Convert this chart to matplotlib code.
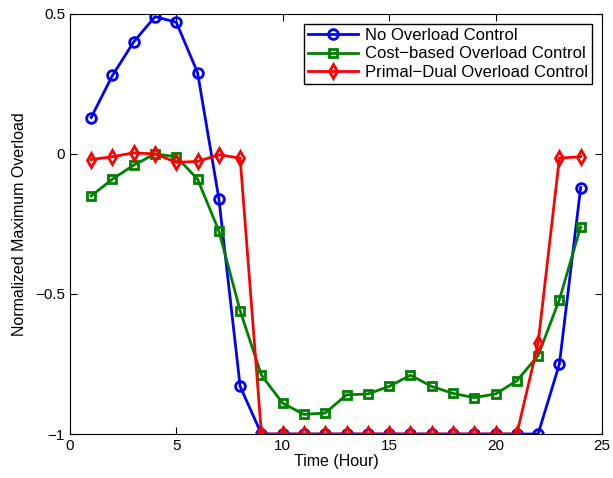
import matplotlib
matplotlib.use("Agg")
import matplotlib.pyplot as plt

plt.rcParams['font.family'] = ['Liberation Sans', 'DejaVu Sans']
plt.rcParams['axes.unicode_minus'] = True

hours = list(range(1, 25))
no_control = [0.13, 0.28, 0.40, 0.49, 0.47, 0.29, -0.16, -0.83,
              -1, -1, -1, -1, -1, -1, -1, -1, -1, -1, -1, -1, -1, -1,
              -0.75, -0.12]
cost_based = [-0.15, -0.09, -0.04, 0.0, -0.01, -0.09, -0.275, -0.56,
              -0.79, -0.89, -0.93, -0.925, -0.86, -0.857, -0.83, -0.79,
              -0.83, -0.855, -0.87, -0.857, -0.81, -0.72, -0.52, -0.26]
primal_dual = [-0.02, -0.01, 0.004, 0.0, -0.03, -0.027, -0.003, -0.015,
               -1, -1, -1, -1, -1, -1, -1, -1, -1, -1, -1, -1, -1,
               -0.675, -0.015, -0.01]

fig = plt.figure(figsize=(6.13, 4.78), dpi=100)
ax = fig.add_axes([0.114, 0.092, 0.868, 0.879])

style = dict(linewidth=2, markersize=7, markeredgewidth=2,
             markerfacecolor='none')
ax.plot(hours, no_control, color='blue', marker='o',
        label='No Overload Control', **style)
ax.plot(hours, cost_based, color=(0, 0.5, 0), marker='s', markersize=6,
        label='Cost\u2212based Overload Control',
        **{k: v for k, v in style.items() if k != 'markersize'})
ax.plot(hours, primal_dual, color='red', marker='d',
        label='Primal\u2212Dual Overload Control', **style)

ax.set_xlim(0, 25)
ax.set_ylim(-1, 0.5)
ax.set_xticks([0, 5, 10, 15, 20, 25])
ax.set_yticks([-1, -0.5, 0, 0.5])
ax.set_yticklabels(['\u22121', '\u22120.5', '0', '0.5'])
ax.tick_params(direction='in', top=True, right=True, labelsize=11,
               length=5)
ax.set_xlabel('Time (Hour)', fontsize=11.5, labelpad=1)
ax.set_ylabel('Normalized Maximum Overload', fontsize=11.5, labelpad=6)

leg = ax.legend(loc='upper right', fontsize=12, fancybox=False,
                framealpha=1, edgecolor='black', handlelength=3.0,
                borderpad=0.25, labelspacing=0.2, handletextpad=0.4,
                borderaxespad=0.6)
leg.get_frame().set_linewidth(1)

fig.savefig('out.png', dpi=100)
